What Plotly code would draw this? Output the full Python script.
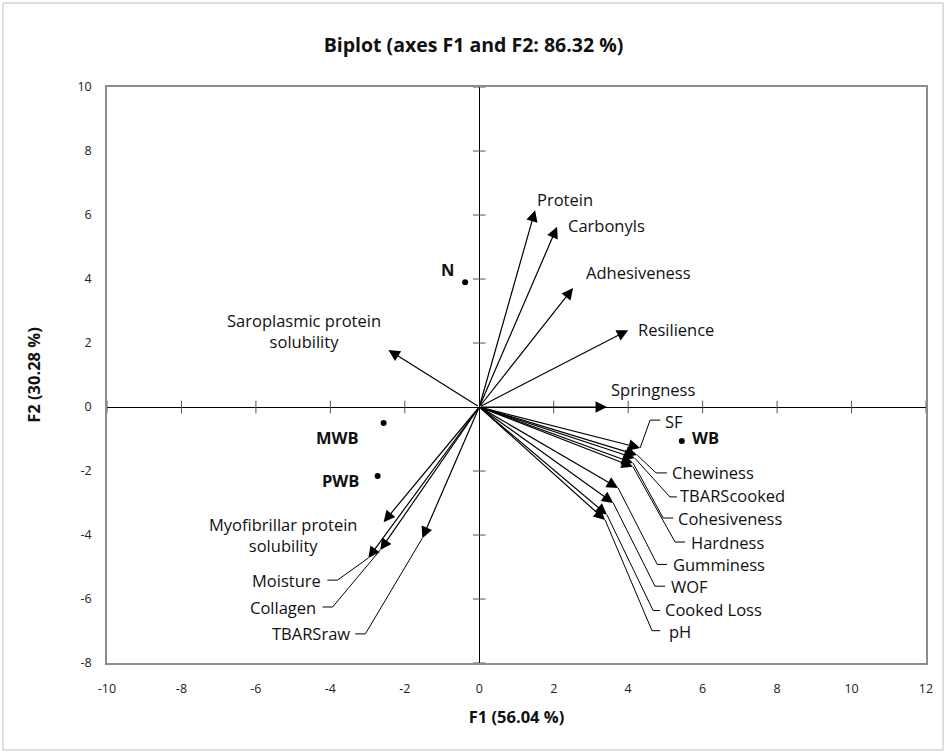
import plotly.graph_objects as go

# ---------------- data ----------------
var_names = ["Protein", "Carbonyls", "Adhesiveness", "Resilience", "Springness",
             "SF", "Chewiness", "TBARScooked", "Cohesiveness", "Hardness",
             "Gumminess", "WOF", "Cooked Loss", "pH",
             "Saroplasmic protein<br>solubility", "Myofibrillar protein<br>solubility",
             "Moisture", "Collagen", "TBARSraw"]
var_f1 = [1.50, 2.09, 2.52, 4.00, 3.43,
          4.32, 4.24, 4.18, 4.13, 4.13,
          3.73, 3.60, 3.43, 3.38,
          -2.44, -2.57, -2.98, -2.66, -1.53]
var_f2 = [6.15, 5.63, 3.72, 2.40, 0.00,
          -1.28, -1.50, -1.60, -1.75, -1.87,
          -2.53, -3.00, -3.37, -3.53,
          1.78, -3.60, -4.72, -4.47, -4.10]

obs_names = ["N", "MWB", "PWB", "WB"]
obs_f1 = [-0.38, -2.57, -2.73, 5.44]
obs_f2 = [3.90, -0.50, -2.16, -1.06]

x_ticks = [-10, -8, -6, -4, -2, 0, 2, 4, 6, 8, 10, 12]
y_ticks = [-8, -6, -4, -2, 0, 2, 4, 6, 8, 10]

title_text = "Biplot (axes F1 and F2: 86.32 %)"
x_title = "F1 (56.04 %)"
y_title = "F2 (30.28 %)"

# ---------------- label placement (layout only) ----------------
label_pos = {
    "Protein": (2.31, 6.50, "center"),
    "Carbonyls": (3.43, 5.66, "center"),
    "Adhesiveness": (4.27, 4.19, "center"),
    "Resilience": (5.29, 2.41, "center"),
    "Springness": (4.67, 0.56, "center"),
    "SF": (4.94, -0.44, "left"),
    "Chewiness": (5.12, -2.06, "left"),
    "TBARScooked": (5.34, -2.78, "left"),
    "Cohesiveness": (5.29, -3.47, "left"),
    "Hardness": (5.63, -4.22, "left"),
    "Gumminess": (5.15, -4.92, "left"),
    "WOF": (5.10, -5.60, "left"),
    "Cooked Loss": (4.94, -6.34, "left"),
    "pH": (5.04, -7.02, "left"),
    "Saroplasmic protein<br>solubility": (-4.72, 2.37, "center"),
    "Myofibrillar protein<br>solubility": (-5.26, -4.00, "center"),
    "Moisture": (-4.19, -5.41, "right"),
    "Collagen": (-4.32, -6.25, "right"),
    "TBARSraw": (-3.42, -7.09, "right"),
}
leaders = {
    "SF": [(4.59, -0.41), (4.86, -0.41)],
    "Chewiness": [(4.75, -2.06), (5.04, -2.06)],
    "TBARScooked": [(5.12, -2.81), (5.31, -2.81)],
    "Cohesiveness": [(4.94, -3.47), (5.21, -3.47)],
    "Hardness": [(5.26, -4.22), (5.53, -4.22)],
    "Gumminess": [(4.78, -4.92), (5.04, -4.92)],
    "WOF": [(4.72, -5.60), (4.99, -5.60)],
    "Cooked Loss": [(4.67, -6.36), (4.86, -6.36)],
    "pH": [(4.64, -6.99), (4.86, -6.99)],
    "Moisture": [(-3.81, -5.41), (-4.08, -5.41)],
    "Collagen": [(-3.94, -6.25), (-4.21, -6.25)],
    "TBARSraw": [(-3.06, -7.09), (-3.33, -7.09)],
}
obs_label_pos = {
    "N": (-0.86, 4.30, "center"),
    "MWB": (-3.81, -0.94, "center"),
    "PWB": (-3.73, -2.31, "center"),
    "WB": (5.65, -0.94, "left"),
}

FONT = "Open Sans"
LBL = 16.5
fig = go.Figure()

for name, pts in leaders.items():
    i = var_names.index(name)
    xs = [var_f1[i]] + [p[0] for p in pts]
    ys = [var_f2[i]] + [p[1] for p in pts]
    fig.add_trace(go.Scatter(x=xs, y=ys, mode="lines",
                             line=dict(color="black", width=1),
                             hoverinfo="skip", showlegend=False))

fig.add_trace(go.Scatter(x=[t for t in x_ticks if t != 0], y=[0] * (len(x_ticks) - 1),
                         mode="markers", marker=dict(symbol="line-ns-open", size=9, color="#555",
                                                     line=dict(color="#555", width=1)),
                         hoverinfo="skip", showlegend=False))
fig.add_trace(go.Scatter(x=[0] * (len(y_ticks) - 1), y=[t for t in y_ticks if t != 0],
                         mode="markers", marker=dict(symbol="line-ew-open", size=9, color="#555",
                                                     line=dict(color="#555", width=1)),
                         hoverinfo="skip", showlegend=False))

fig.add_trace(go.Scatter(x=obs_f1, y=obs_f2, mode="markers",
                         marker=dict(color="black", size=6),
                         hoverinfo="text", text=obs_names, showlegend=False))

annotations = []
for n, x, y in zip(var_names, var_f1, var_f2):
    annotations.append(dict(x=x, y=y, ax=0, ay=0, xref="x", yref="y",
                            axref="x", ayref="y", showarrow=True, text="",
                            arrowhead=2, arrowsize=1.9, arrowwidth=1.2,
                            arrowcolor="black", standoff=0))
for n in var_names:
    lx, ly, xa = label_pos[n]
    annotations.append(dict(x=lx, y=ly, xref="x", yref="y", text=n, showarrow=False,
                            xanchor=xa, yanchor="middle",
                            font=dict(family=FONT, size=LBL, color="#111")))
for n in obs_names:
    lx, ly, xa = obs_label_pos[n]
    annotations.append(dict(x=lx, y=ly, xref="x", yref="y", text="<b>%s</b>" % n,
                            showarrow=False, xanchor=xa, yanchor="middle",
                            font=dict(family=FONT, size=LBL, color="#111")))

fig.update_layout(
    width=947, height=755,
    margin=dict(l=107, r=21, t=87, b=92),
    paper_bgcolor="white", plot_bgcolor="white",
    title=dict(text="<b>%s</b>" % title_text, x=0.5, xanchor="center",
               y=1 - 45 / 755, yanchor="middle",
               font=dict(family=FONT, size=19.5, color="#111")),
    xaxis=dict(range=[-10, 12], tickvals=x_ticks, ticktext=[str(t) for t in x_ticks],
               showgrid=False,
               zeroline=True, zerolinecolor="black", zerolinewidth=1,
               showline=True, linecolor="#8c8c8c", linewidth=1.5, mirror=True,
               ticks="", ticklabelstandoff=13,
               tickfont=dict(family=FONT, size=12.5, color="#222"),
               title=dict(text="<b>%s</b>" % x_title, standoff=16,
                          font=dict(family=FONT, size=16.5, color="#111"))),
    yaxis=dict(range=[-8, 10], tickvals=y_ticks, ticktext=[str(t) for t in y_ticks],
               showgrid=False,
               zeroline=True, zerolinecolor="black", zerolinewidth=1,
               showline=True, linecolor="#8c8c8c", linewidth=1.5, mirror=True,
               ticks="", ticklabelstandoff=11,
               tickfont=dict(family=FONT, size=12.5, color="#222"),
               title=dict(text="<b>%s</b>" % y_title, standoff=33,
                          font=dict(family=FONT, size=16.5, color="#111"))),
    annotations=annotations,
    shapes=[dict(type="rect", xref="paper", yref="paper",
                 x0=-0.127, x1=1.0208, y0=-0.151, y1=1.1458,
                 line=dict(color="#bdbdbd", width=1), layer="below")],
)

fig.write_html("out.html", config={"displayModeBar": False},
               post_script="document.body.style.margin='0';")
